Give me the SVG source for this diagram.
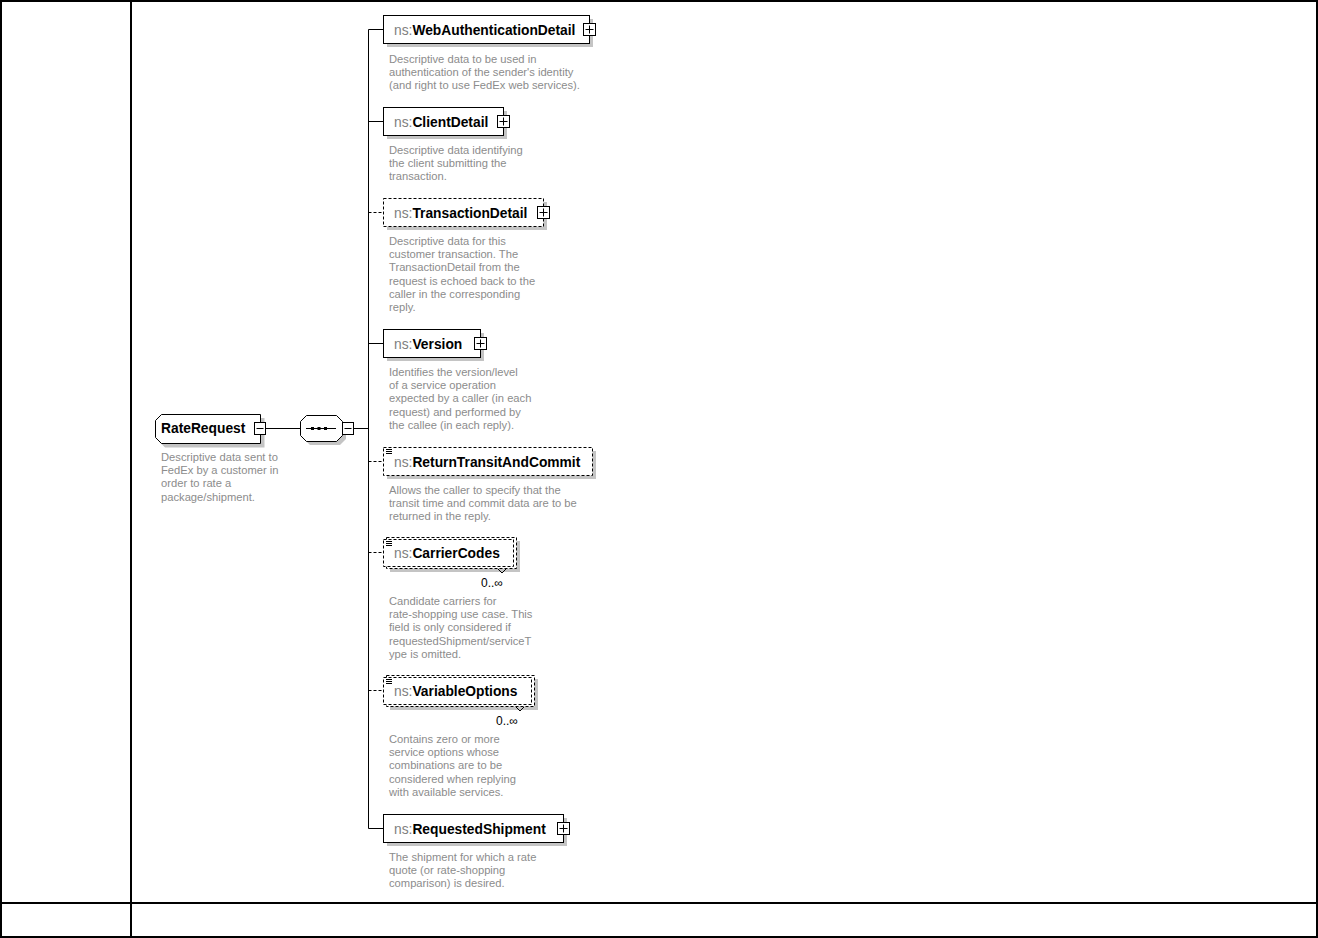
<svg xmlns="http://www.w3.org/2000/svg" width="1318" height="938" viewBox="0 0 1318 938">
<style>
.frame{fill:none;stroke:#000;stroke-width:2}
.box{fill:#fff;stroke:#000;stroke-width:1}
.dbox{fill:#fff;stroke:#000;stroke-width:1;stroke-dasharray:3,2}
.shadow{fill:#c4c4c4}
.conn{fill:none;stroke:#000;stroke-width:1}
.dconn{fill:none;stroke:#000;stroke-width:1;stroke-dasharray:3,2}
.btn{fill:#fff;stroke:#000;stroke-width:1}
.sign{fill:none;stroke:#000;stroke-width:1}
.name{font-family:"Liberation Sans",Arial,sans-serif;font-size:13.8px;font-weight:bold;fill:#000}
.ns{font-weight:normal;fill:#808080}
.desc{font-family:"Liberation Sans",Arial,sans-serif;font-size:11.2px;fill:#8c8c8c}
.occ{font-family:"Liberation Sans",Arial,sans-serif;font-size:12px;fill:#000}
</style>
<rect x="0" y="0" width="1318" height="938" fill="#fff"/>
<g id="table">
<rect class="frame" x="1" y="1" width="1316" height="936"/>
<line class="frame" x1="131" y1="1" x2="131" y2="937"/>
<line class="frame" x1="1" y1="903" x2="1317" y2="903"/>
</g>
<g id="connectors">
<line class="conn" x1="266" y1="428.5" x2="300" y2="428.5"/>
<line class="conn" x1="354" y1="428.5" x2="368.5" y2="428.5"/>
<line class="conn" x1="368.5" y1="29.5" x2="368.5" y2="828.5"/>
<line class="conn" x1="368.5" y1="29.5" x2="383" y2="29.5"/>
<line class="conn" x1="368.5" y1="121.5" x2="383" y2="121.5"/>
<line class="dconn" x1="368.5" y1="212.5" x2="383" y2="212.5"/>
<line class="conn" x1="368.5" y1="343.5" x2="383" y2="343.5"/>
<line class="dconn" x1="368.5" y1="461.5" x2="383" y2="461.5"/>
<line class="dconn" x1="368.5" y1="552.5" x2="383" y2="552.5"/>
<line class="dconn" x1="368.5" y1="690.5" x2="383" y2="690.5"/>
<line class="conn" x1="368.5" y1="828.5" x2="383" y2="828.5"/>
</g>
<g id="RateRequest">
<path class="shadow" d="M165,418 H264.5 V447.5 H165 L159,441.5 V424 Z"/>
<path class="box" d="M161.5,414.5 H260.5 V443.5 H161.5 L155.5,437.5 V420.5 Z"/>
<text class="name" x="161" y="433">RateRequest</text>
<rect class="btn" x="254.5" y="422.5" width="11" height="12"/>
<line class="sign" x1="256.5" y1="428.5" x2="263.5" y2="428.5"/>
<text class="desc"><tspan x="161" y="461">Descriptive data sent to</tspan><tspan x="161" y="474.2">FedEx by a customer in</tspan><tspan x="161" y="487.4">order to rate a</tspan><tspan x="161" y="500.6">package/shipment.</tspan></text>
</g>
<g id="sequence">
<path class="shadow" d="M310,419 H340 L346,425 V439 L340,445 H310 L304,439 V425 Z"/>
<path class="box" d="M306.5,415.5 H336.5 L342.5,421.5 V435.5 L336.5,441.5 H306.5 L300.5,435.5 V421.5 Z"/>
<line class="sign" x1="306" y1="428.5" x2="336" y2="428.5"/>
<rect x="311" y="427" width="3" height="3" fill="#000"/>
<rect x="317.5" y="427" width="3" height="3" fill="#000"/>
<rect x="324" y="427" width="3" height="3" fill="#000"/>
<rect class="btn" x="342.5" y="422.5" width="11" height="12"/>
<line class="sign" x1="344.5" y1="428.5" x2="351.5" y2="428.5"/>
</g>
<g id="WebAuthenticationDetail">
<rect class="shadow" x="387" y="19" width="206" height="28"/>
<rect class="box" x="383.5" y="15.5" width="206" height="28"/>
<text class="name" x="394" y="34.5"><tspan class="ns">ns:</tspan>WebAuthenticationDetail</text>
<rect class="btn" x="583.5" y="23.5" width="12" height="12"/>
<path class="sign" d="M585.5,29.5 H593.5 M589.5,25.5 V33.5"/>
<text class="desc"><tspan x="389" y="63">Descriptive data to be used in</tspan><tspan x="389" y="76.2">authentication of the sender's identity</tspan><tspan x="389" y="89.4">(and right to use FedEx web services).</tspan></text>
</g>
<g id="ClientDetail">
<rect class="shadow" x="387" y="111" width="120" height="28"/>
<rect class="box" x="383.5" y="107.5" width="120" height="28"/>
<text class="name" x="394" y="126.5"><tspan class="ns">ns:</tspan>ClientDetail</text>
<rect class="btn" x="497.5" y="115.5" width="12" height="12"/>
<path class="sign" d="M499.5,121.5 H507.5 M503.5,117.5 V125.5"/>
<text class="desc"><tspan x="389" y="154">Descriptive data identifying</tspan><tspan x="389" y="167.2">the client submitting the</tspan><tspan x="389" y="180.4">transaction.</tspan></text>
</g>
<g id="TransactionDetail">
<rect class="shadow" x="387" y="202" width="160" height="28"/>
<rect class="dbox" x="383.5" y="198.5" width="160" height="28"/>
<text class="name" x="394" y="217.5"><tspan class="ns">ns:</tspan>TransactionDetail</text>
<rect class="btn" x="537.5" y="206.5" width="12" height="12"/>
<path class="sign" d="M539.5,212.5 H547.5 M543.5,208.5 V216.5"/>
<text class="desc"><tspan x="389" y="245">Descriptive data for this</tspan><tspan x="389" y="258.2">customer transaction. The</tspan><tspan x="389" y="271.4">TransactionDetail from the</tspan><tspan x="389" y="284.6">request is echoed back to the</tspan><tspan x="389" y="297.8">caller in the corresponding</tspan><tspan x="389" y="311">reply.</tspan></text>
</g>
<g id="Version">
<rect class="shadow" x="387" y="333" width="97" height="28"/>
<rect class="box" x="383.5" y="329.5" width="97" height="28"/>
<text class="name" x="394" y="348.5"><tspan class="ns">ns:</tspan>Version</text>
<rect class="btn" x="474.5" y="337.5" width="12" height="12"/>
<path class="sign" d="M476.5,343.5 H484.5 M480.5,339.5 V347.5"/>
<text class="desc"><tspan x="389" y="376">Identifies the version/level</tspan><tspan x="389" y="389.2">of a service operation</tspan><tspan x="389" y="402.4">expected by a caller (in each</tspan><tspan x="389" y="415.6">request) and performed by</tspan><tspan x="389" y="428.8">the callee (in each reply).</tspan></text>
</g>
<g id="ReturnTransitAndCommit">
<rect class="shadow" x="387" y="451" width="209" height="28"/>
<rect class="dbox" x="383.5" y="447.5" width="209" height="28"/>
<path class="sign" d="M386,449.5 H392 M386,451.5 H392 M386,453.5 H392"/>
<text class="name" x="394" y="466.5"><tspan class="ns">ns:</tspan>ReturnTransitAndCommit</text>
<text class="desc"><tspan x="389" y="494">Allows the caller to specify that the</tspan><tspan x="389" y="507.2">transit time and commit data are to be</tspan><tspan x="389" y="520.4">returned in the reply.</tspan></text>
</g>
<g id="CarrierCodes">
<rect class="shadow" x="390" y="541" width="130" height="31"/>
<rect class="dbox" x="386.5" y="537.5" width="130" height="31"/>
<rect class="dbox" x="383.5" y="539.5" width="130" height="27"/>
<path class="sign" d="M498,569 L502,573 L506,569"/>
<path class="sign" d="M386,541.5 H392 M386,543.5 H392 M386,545.5 H392"/>
<text class="name" x="394" y="557.5"><tspan class="ns">ns:</tspan>CarrierCodes</text>
<text class="occ" x="481" y="587">0..∞</text>
<text class="desc"><tspan x="389" y="605">Candidate carriers for</tspan><tspan x="389" y="618.2">rate-shopping use case. This</tspan><tspan x="389" y="631.4">field is only considered if</tspan><tspan x="389" y="644.6">requestedShipment/serviceT</tspan><tspan x="389" y="657.8">ype is omitted.</tspan></text>
</g>
<g id="VariableOptions">
<rect class="shadow" x="390" y="679" width="148" height="31"/>
<rect class="dbox" x="386.5" y="675.5" width="148" height="31"/>
<rect class="dbox" x="383.5" y="677.5" width="148" height="27"/>
<path class="sign" d="M516,707 L520,711 L524,707"/>
<path class="sign" d="M386,679.5 H392 M386,681.5 H392 M386,683.5 H392"/>
<text class="name" x="394" y="695.5"><tspan class="ns">ns:</tspan>VariableOptions</text>
<text class="occ" x="496" y="725">0..∞</text>
<text class="desc"><tspan x="389" y="743">Contains zero or more</tspan><tspan x="389" y="756.2">service options whose</tspan><tspan x="389" y="769.4">combinations are to be</tspan><tspan x="389" y="782.6">considered when replying</tspan><tspan x="389" y="795.8">with available services.</tspan></text>
</g>
<g id="RequestedShipment">
<rect class="shadow" x="387" y="818" width="180" height="28"/>
<rect class="box" x="383.5" y="814.5" width="180" height="28"/>
<text class="name" x="394" y="833.5"><tspan class="ns">ns:</tspan>RequestedShipment</text>
<rect class="btn" x="557.5" y="822.5" width="12" height="12"/>
<path class="sign" d="M559.5,828.5 H567.5 M563.5,824.5 V832.5"/>
<text class="desc"><tspan x="389" y="861">The shipment for which a rate</tspan><tspan x="389" y="874.2">quote (or rate-shopping</tspan><tspan x="389" y="887.4">comparison) is desired.</tspan></text>
</g>
</svg>
